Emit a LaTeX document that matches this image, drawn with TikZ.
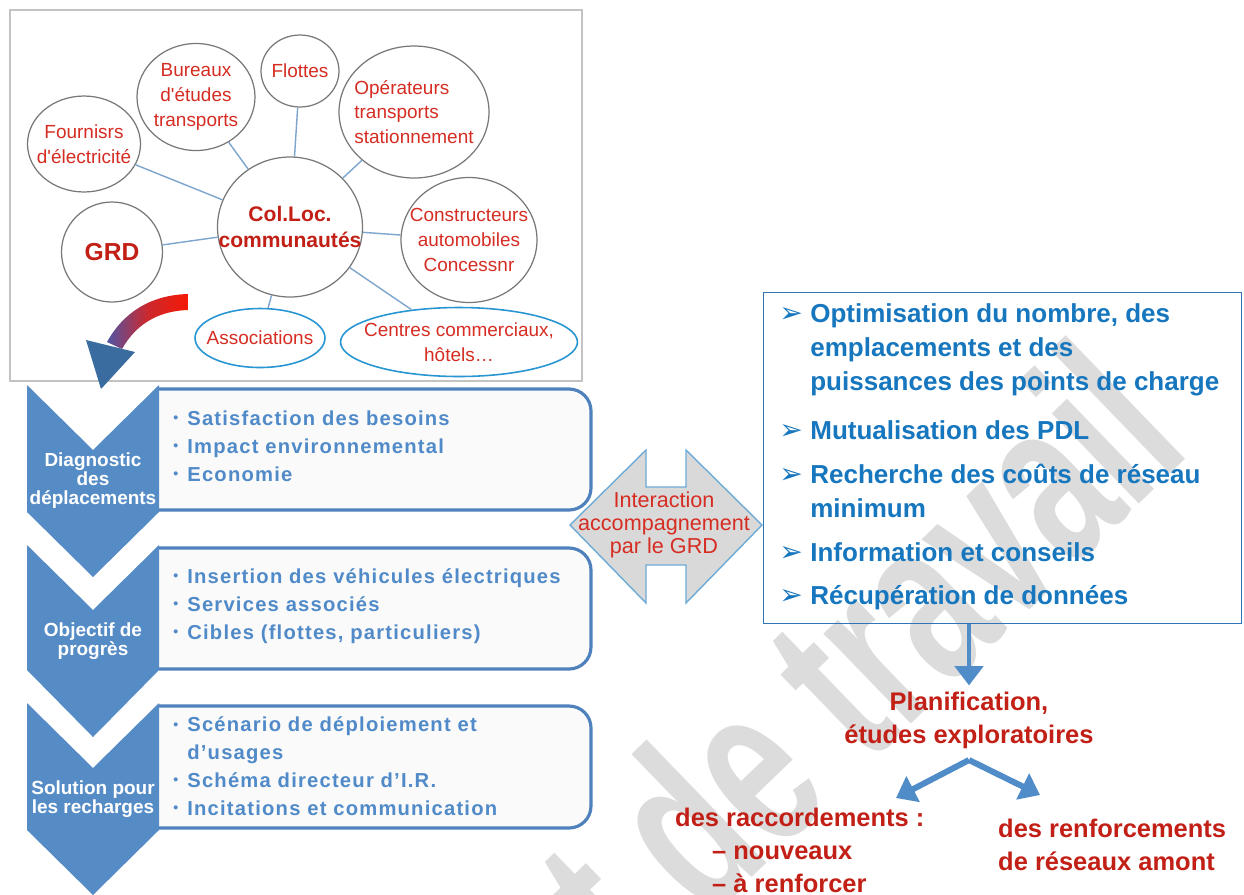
\documentclass[tikz,border=0pt]{standalone}
\usepackage{fontspec}
\setmainfont{Liberation Sans}
\newfontfamily\symfont{DejaVu Sans}
\newfontfamily\wmfont[FakeStretch=0.65]{Liberation Sans}
\usetikzlibrary{
    arrows.meta,
    positioning,
    shapes.geometric,
    calc
}
\definecolor{BubbleRed}{RGB}{214,45,35}
\definecolor{DeepRed}{RGB}{194,32,22}
\definecolor{BubbleGray}{RGB}{120,120,120}
\definecolor{FrameGray}{RGB}{195,195,195}
\definecolor{LinkBlue}{RGB}{125,165,205}
\definecolor{RingBlue}{RGB}{40,150,210}
\definecolor{ChevBlue}{RGB}{86,140,198}
\definecolor{FrameBlue}{RGB}{79,129,189}
\definecolor{ItemBlue}{RGB}{80,138,200}
\definecolor{ListBlue}{RGB}{22,118,190}
\definecolor{ListFrame}{RGB}{46,117,182}
\definecolor{HeadBlue}{RGB}{58,108,160}
\definecolor{SwoopRed}{RGB}{245,25,5}
\definecolor{SwoopBlue}{RGB}{80,85,165}
\definecolor{ArrowGray}{RGB}{217,217,217}
\definecolor{EdgeBlue}{RGB}{110,170,215}
\definecolor{FlowBlue}{RGB}{80,140,200}
\definecolor{Watermark}{RGB}{220,220,220}
\newcommand{\dotitem}{\makebox[0.28cm][l]{\raisebox{0.12em}{\fontsize{8}{8}\selectfont •}}}
\newcommand{\arrowmark}{\makebox[0.62cm][l]{\symfont\mdseries\fontsize{16}{16}\selectfont ➢}}

\begin{document}
\begin{tikzpicture}[
    x=0.02cm,
    y=-0.02cm,
    bubble/.style={ellipse, draw=BubbleGray, line width=0.7pt, inner sep=-1cm,
        text=BubbleRed, align=center, font=\fontsize{10.8}{14}\selectfont},
    ring/.style={bubble, draw=RingBlue, line width=0.9pt},
    link/.style={draw=LinkBlue, line width=0.8pt},
    chevron/.style={fill=ChevBlue},
    chevtext/.style={text=white, align=center, inner sep=0pt,
        font=\bfseries\fontsize{10.8}{10.8}\selectfont},
    stagebox/.style={draw=FrameBlue, line width=1.8pt, fill=gray!4, rounded corners=0.44cm},
    stagetext/.style={anchor=west, align=left, inner sep=0pt, text=ItemBlue,
        font=\bfseries\fontsize{11.5}{15.9}\selectfont\addfontfeature{LetterSpace=6}},
    listitem/.style={anchor=west, align=left, inner sep=0pt, text=ListBlue,
        font=\bfseries\fontsize{14.8}{19.3}\selectfont},
    redtext/.style={text=DeepRed, align=center, font=\bfseries\fontsize{14.5}{18.8}\selectfont},
    flow/.style={draw=FlowBlue, line width=3.4pt, -{Triangle[width=16pt,length=11pt]}},
    watermark/.style={text=Watermark, font=\wmfont\bfseries\fontsize{135}{135}\selectfont}
]

\useasboundingbox (0,0) rectangle (1244,894);
\fill[white] (0,0) rectangle (1244,894);

\begin{scope}
\clip (0,0) rectangle (1244,894);
\node[watermark, rotate=44, anchor=base east] (wm) at (1198,447) {Document de travail};
\end{scope}

% actors around the local authority
\draw[FrameGray, line width=0.6pt] (10,10) rectangle (582,381);

\node[bubble, minimum width=2.9cm, minimum height=2.8cm, text=DeepRed,
    font=\bfseries\fontsize{12}{15.3}\selectfont] (hub) at (290,227) {Col.Loc.\\communautés};
\node[bubble, minimum width=2.26cm, minimum height=1.92cm] (supplier) at (84,144) {Fournisrs\\d\textquotesingle électricité};
\node[bubble, minimum width=2.36cm, minimum height=2.14cm] (studies) at (196,97) {Bureaux\\d\textquotesingle études\\transports};
\node[bubble, minimum width=1.56cm, minimum height=1.44cm] (fleets) at (300,71) {Flottes};
\node[bubble, align=left, minimum width=3cm, minimum height=2.64cm] (operators) at (414,112) {Opérateurs\\transports\\stationnement};
\node[bubble, minimum width=2.02cm, minimum height=2cm, text=DeepRed,
    font=\bfseries\fontsize{14}{14}\selectfont] (grd) at (112,252) {GRD};
\node[bubble, minimum width=2.72cm, minimum height=2.5cm] (makers) at (469,240) {Constructeurs\\automobiles\\Concessnr};
\node[ring, minimum width=2.6cm, minimum height=1.18cm] (assoc) at (260,338) {Associations};
\node[ring, minimum width=4.74cm, minimum height=1.38cm] (malls) at (459,342) {Centres commerciaux,\\hôtels…};

\draw[link] (hub) -- (supplier);
\draw[link] (hub) -- (studies);
\draw[link] (hub) -- (fleets);
\draw[link] (hub) -- (operators);
\draw[link] (hub) -- (grd);
\draw[link] (hub) -- (makers);
\draw[link] (hub) -- (assoc);
\draw[link] (hub) -- (malls);

% swoop down to the steps
\shade[left color=SwoopBlue, right color=SwoopRed, middle color=SwoopRed!75!SwoopBlue]
    (188,294) .. controls (150,295) and (123,313) .. (107,342)
    -- (122,349) .. controls (135,326) and (156,311) .. (188,310) -- cycle;
\fill[HeadBlue] (86,340) -- (135,352) -- (101,389) -- cycle;

% steps
\filldraw[stagebox] (159,389) -- (591,389) -- (591,510) -- (159,510);
\filldraw[stagebox] (159,548) -- (591,548) -- (591,669) -- (159,669);
\filldraw[stagebox] (159,706) -- (591,706) -- (591,828) -- (159,828);

\fill[chevron] (27,385) -- (93,450) -- (159,385) -- (159,512) -- (93,577) -- (27,512) -- cycle;
\fill[chevron] (27,545) -- (93,610) -- (159,545) -- (159,670) -- (93,737) -- (27,670) -- cycle;
\fill[chevron] (27,703) -- (93,768) -- (159,703) -- (159,830) -- (93,895) -- (27,830) -- cycle;

\node[chevtext] (diagnosis) at (93,481) {Diagnostic\\des\\déplacements};
\node[chevtext] (target) at (93,641) {Objectif de\\progrès};
\node[chevtext] (solution) at (93,799) {Solution pour\\les recharges};

\node[stagetext] (needs) at (173,446) {\dotitem Satisfaction des besoins\\\dotitem Impact environnemental\\\dotitem Economie};
\node[stagetext] (goals) at (173,606) {\dotitem Insertion des véhicules électriques\\\dotitem Services associés\\\dotitem Cibles (flottes, particuliers)};
\node[stagetext] (plans) at (173,766) {\dotitem Scénario de déploiement et\\\hspace*{0.28cm}d’usages\\\dotitem Schéma directeur d’I.R.\\\dotitem Incitations et communication};

% interaction with the DSO
\filldraw[fill=ArrowGray, draw=EdgeBlue, line width=0.8pt]
    (570,525) -- (646,450) -- (646,487) -- (686,487) -- (686,450) -- (762,525)
    -- (686,603) -- (686,565) -- (646,565) -- (646,603) -- cycle;
\node[text=BubbleRed, align=center, font=\fontsize{12.3}{13.3}\selectfont] (exchange) at (664,525)
    {Interaction\\accompagnement\\par le GRD};

% what the DSO brings
\node[draw=ListFrame, line width=0.7pt, minimum width=9.56cm, minimum height=6.62cm,
    anchor=north west] (actions) at (763,292) {};

\node[listitem] (optim) at (779,350) {\arrowmark Optimisation du nombre, des\\\hspace*{0.62cm}emplacements et des\\\hspace*{0.62cm}puissances des points de charge};
\node[listitem] (pooling) at (779,430) {\arrowmark Mutualisation des PDL};
\node[listitem] (costs) at (779,491) {\arrowmark Recherche des coûts de réseau\\\hspace*{0.62cm}minimum};
\node[listitem] (advice) at (779,552) {\arrowmark Information et conseils};
\node[listitem] (data) at (779,598) {\arrowmark Récupération de données};

% planning
\node[redtext] (plan) at (969,720) {Planification,\\études exploratoires};
\node[redtext, align=left, anchor=west] (links) at (669,850)
    {des raccordements :\\\hspace*{0.74cm}– nouveaux\\\hspace*{0.74cm}– à renforcer};
\node[redtext, align=left, anchor=west] (upgrade) at (992,845) {des renforcements\\de réseaux amont};

\coordinate (fork) at (969,760);
\coordinate (linksend) at (896,798);
\coordinate (upgradeend) at (1040,795);

\draw[flow, line width=2.6pt] (plan.north |- actions.south) -- (plan.north);
\draw[flow] (fork) -- (linksend);
\draw[flow] (fork) -- (upgradeend);

\end{tikzpicture}
\end{document}
